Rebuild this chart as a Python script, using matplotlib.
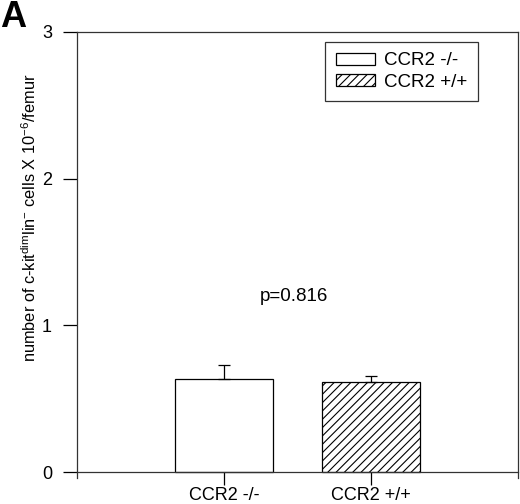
import matplotlib
matplotlib.use("Agg")
import matplotlib.pyplot as plt
import numpy as np

# values
groups = ["CCR2 -/-", "CCR2 +/+"]
means = [0.636, 0.613]
errs_up = [0.094, 0.041]
hatches = ["", "////"]
p_label = "p=0.816"

plt.rcParams['font.family'] = ['Liberation Sans', 'DejaVu Sans']
plt.rcParams['hatch.linewidth'] = 0.8

fig = plt.figure(figsize=(5.2, 5.04), dpi=100)
ax = fig.add_axes([77/520, 1-478/504, (518-77)/520, (478-32)/504])

x = np.arange(1, len(groups)+1)
bars = ax.bar(x, means, width=0.66, color="white", edgecolor="black", linewidth=0.9,
              zorder=2)
for b, h, g in zip(bars, hatches, groups):
    b.set_hatch(h)
    b.set_label(g)
ax.errorbar(x, means, yerr=[np.zeros(len(means)), errs_up], fmt="none",
            ecolor="black", elinewidth=0.9, capsize=4, capthick=0.9, zorder=3)

ax.set_xlim(0, 3)
ax.set_ylim(-0.04, 3)
ax.set_yticks([0, 1, 2, 3])
ax.set_xticks(x)
ax.set_xticklabels(groups)
ax.spines['bottom'].set_position(('data', 0))
for s in ax.spines.values():
    s.set_linewidth(0.9)
    s.set_color("#333333")
ax.tick_params(axis='y', direction='out', length=10, width=0.9, pad=8, labelsize=13)
ax.tick_params(axis='x', direction='out', length=9, width=0.9, pad=2, labelsize=13)

ax.text(1.476, 1.2, p_label, ha="center", va="center", fontsize=13.5)

leg = ax.legend(loc="upper right", bbox_to_anchor=(478/520, 1-42/504),
                bbox_transform=fig.transFigure, fontsize=13.5, fancybox=False,
                edgecolor="black", handlelength=2.1, handleheight=0.6,
                borderpad=0.55, labelspacing=0.25, handletextpad=0.5,
                borderaxespad=0)
leg.get_frame().set_linewidth(0.9)

fig.text(30/520, 1-218/504,
         r"number of c-kit$^{\mathregular{dim}}$lin$^{\mathregular{-}}$ cells X 10$^{\mathregular{-6}}$/femur",
         rotation=90, ha="center", va="center", fontsize=11.8)
fig.text(0, 1, "A", fontsize=26, fontweight="bold", ha="left", va="top")

fig.savefig("out.png", dpi=100)
